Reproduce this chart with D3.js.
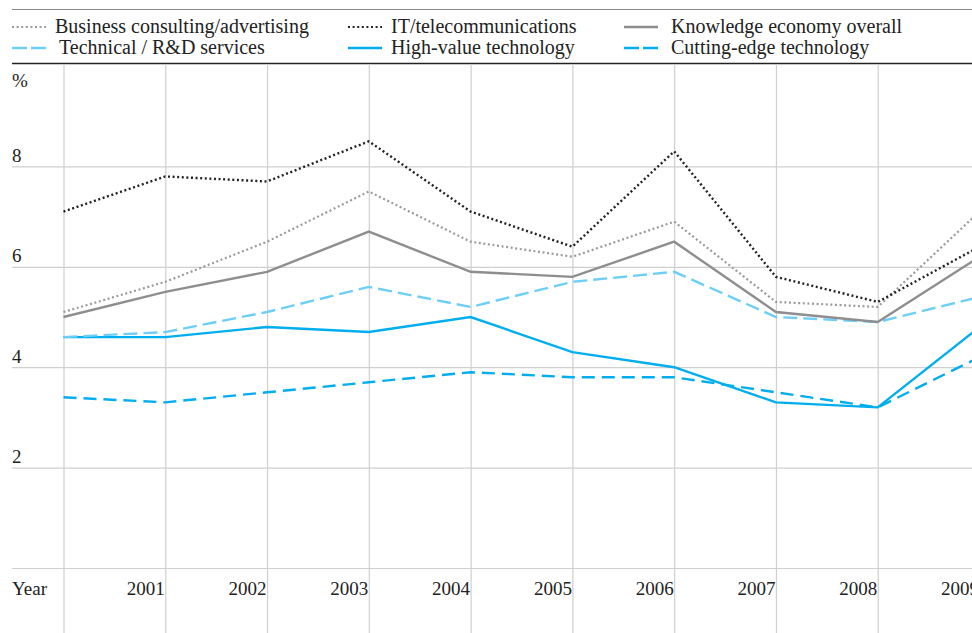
<!DOCTYPE html>
<html>
<head>
<meta charset="utf-8">
<script src="https://cdn.jsdelivr.net/npm/d3@7"></script>
<style>
  body { margin: 0; background: #fff; }
  svg { display: block; font-family: "Liberation Serif", "Times New Roman", serif; }
</style>
</head>
<body>
<div id="main"></div>
<script>
// data (annual % values)
const YEARS = [2000, 2001, 2002, 2003, 2004, 2005, 2006, 2007, 2008, 2009];
const Y_TICKS = [0, 2, 4, 6, 8];

const BUSINESS = [5.1, 5.7, 6.5, 7.5, 6.5, 6.2, 6.9, 5.3, 5.2, 7.1];
const IT_TELECOM = [7.1, 7.8, 7.7, 8.5, 7.1, 6.4, 8.3, 5.8, 5.3, 6.4];
const KNOWLEDGE = [5.0, 5.5, 5.9, 6.7, 5.9, 5.8, 6.5, 5.1, 4.9, 6.2];
const TECHNICAL = [4.6, 4.7, 5.1, 5.6, 5.2, 5.7, 5.9, 5.0, 4.9, 5.4];
const HIGH_VALUE = [4.6, 4.6, 4.8, 4.7, 5.0, 4.3, 4.0, 3.3, 3.2, 4.8];
const CUTTING_EDGE = [3.4, 3.3, 3.5, 3.7, 3.9, 3.8, 3.8, 3.5, 3.2, 4.2];

const SERIES_NAMES = [
    "Business consulting/advertising", "IT/telecommunications", "Knowledge economy overall",
    "Technical / R&D services", "High-value technology", "Cutting-edge technology"
];

const ctx = {
    w: 972,
    h: 633,
    gridColor: "#cfcfcf",
    textColor: "#222",
    fontSize: 19,
    legendFontSize: 20,
};

// line styles, same order as SERIES_NAMES
const STYLES = [
    { color: "#9a9a9a", width: 2.2, dash: "2,2.6" },
    { color: "#222", width: 2.4, dash: "2,2.6" },
    { color: "#8e8e90", width: 2.4, dash: null },
    { color: "#6dcff6", width: 2.4, dash: "14,6" },
    { color: "#00aeef", width: 2.4, dash: null },
    { color: "#00aeef", width: 2.4, dash: "13,7" },
];

function createViz() {
    const svgEl = d3.select("#main").append("svg")
        .attr("width", ctx.w)
        .attr("height", ctx.h);

    const x = d3.scaleLinear().domain([2000, 2009]).range([63.5, 979.5]);
    const y = d3.scaleLinear().domain([0, 10]).range([568, 66]);

    // top rules
    svgEl.append("line")
        .attr("x1", 12).attr("x2", ctx.w).attr("y1", 9.5).attr("y2", 9.5)
        .attr("stroke", "#888").attr("stroke-width", 1.2);
    svgEl.append("line")
        .attr("x1", 12).attr("x2", ctx.w).attr("y1", 63.5).attr("y2", 63.5)
        .attr("stroke", "#222").attr("stroke-width", 1.3);

    // vertical grid + year labels
    const xAxisG = svgEl.append("g")
        .attr("transform", "translate(0,64)")
        .call(d3.axisBottom(x).tickValues(YEARS).tickSize(ctx.h - 64)
            .tickFormat((d) => (d === 2000 ? "" : d)));
    xAxisG.select(".domain").remove();
    xAxisG.selectAll(".tick line").attr("stroke", ctx.gridColor).attr("stroke-width", 1.2);
    xAxisG.selectAll(".tick text")
        .attr("y", 595 - 64)
        .attr("dy", 0)
        .attr("x", -1)
        .attr("text-anchor", "end")
        .attr("font-family", "Liberation Serif")
        .attr("font-size", ctx.fontSize)
        .attr("fill", ctx.textColor);

    // horizontal grid + value labels
    const yAxisG = svgEl.append("g")
        .attr("transform", "translate(12,0)")
        .call(d3.axisRight(y).tickValues(Y_TICKS).tickSize(ctx.w - 12)
            .tickFormat((d) => (d === 0 ? "" : d)));
    yAxisG.select(".domain").remove();
    yAxisG.selectAll(".tick line").attr("stroke", ctx.gridColor).attr("stroke-width", 1.2);
    yAxisG.selectAll(".tick text")
        .attr("x", 0)
        .attr("dy", -5)
        .attr("text-anchor", "start")
        .attr("font-family", "Liberation Serif")
        .attr("font-size", ctx.fontSize)
        .attr("fill", ctx.textColor);

    svgEl.append("text")
        .attr("x", 12).attr("y", 87)
        .attr("font-size", ctx.fontSize).attr("fill", ctx.textColor)
        .text("%");
    svgEl.append("text")
        .attr("x", 12).attr("y", 595)
        .attr("font-size", ctx.fontSize).attr("fill", ctx.textColor)
        .text("Year");

    // data lines
    const allSeries = [BUSINESS, IT_TELECOM, KNOWLEDGE, TECHNICAL, HIGH_VALUE, CUTTING_EDGE];
    const line = d3.line()
        .x((d, i) => x(YEARS[i]))
        .y((d) => y(d));
    const drawOrder = [5, 4, 3, 2, 0, 1];
    drawOrder.forEach((k) => {
        const st = STYLES[k];
        svgEl.append("path")
            .datum(allSeries[k])
            .attr("d", line)
            .attr("fill", "none")
            .attr("stroke", st.color)
            .attr("stroke-width", st.width)
            .attr("stroke-dasharray", st.dash)
            .attr("stroke-linejoin", "miter");
    });

    // legend, 3 columns x 2 rows
    const legendPos = [
        { sx: 12, tx: 55, y: 27 }, { sx: 348, tx: 391, y: 27 }, { sx: 624, tx: 671, y: 27 },
        { sx: 12, tx: 59, y: 48 }, { sx: 348, tx: 391, y: 48 }, { sx: 624, tx: 671, y: 48 },
    ];
    SERIES_NAMES.forEach((name, k) => {
        const p = legendPos[k];
        const st = STYLES[k];
        const g = svgEl.append("g");
        g.append("line")
            .attr("x1", p.sx).attr("x2", p.sx + 34)
            .attr("y1", p.y).attr("y2", p.y)
            .attr("stroke", st.color)
            .attr("stroke-width", st.dash && st.dash.startsWith("2") ? 2 : 2.6)
            .attr("stroke-dasharray", st.dash && !st.dash.startsWith("2") ? "15,4" : st.dash);
        g.append("text")
            .attr("x", p.tx).attr("y", p.y + 6)
            .attr("font-size", ctx.legendFontSize)
            .attr("fill", ctx.textColor)
            .text(name);
    });
}

createViz();
</script>
</body>
</html>
